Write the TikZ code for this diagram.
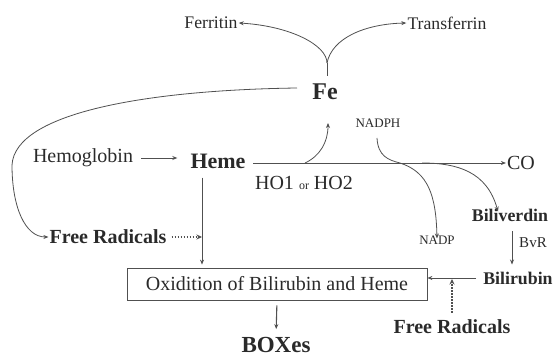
\documentclass[tikz,border=0pt]{standalone}
\usepackage{fontspec}
\setmainfont{Liberation Serif}
\usetikzlibrary{arrows.meta}
\definecolor{txt}{HTML}{2A2A2A}
\definecolor{ln}{HTML}{505050}
\newcommand{\fsz}[1]{\fontsize{#1}{#1}\selectfont}
\begin{document}
\begin{tikzpicture}[x=1pt,y=-1pt,
  lbl/.style={inner sep=1pt,text=txt,font=\fsz{20}},
  bld/.style={inner sep=1pt,text=txt,font=\fsz{20}\bfseries},
  small/.style={inner sep=1pt,text=txt,font=\fsz{13}},
  arr/.style={draw=ln,line width=0.8pt,-{Stealth[length=5pt,width=4pt]}},
  dotarr/.style={draw=ln,line width=1.4pt,dash pattern=on 1.4pt off 1.6pt,-{Stealth[length=5.5pt,width=5pt]}},
  plain/.style={draw=ln,line width=0.8pt}]
\useasboundingbox (0,0) rectangle (555,358);
% nodes
\node[bld,font=\fsz{24}\bfseries] (fe) at (325,92) {Fe};
\node[lbl,font=\fsz{17.7}] (ferritin) at (211,23) {Ferritin};
\node[lbl,font=\fsz{17.7}] (transferrin) at (447,23) {Transferrin};
\node[lbl] (hemoglobin) at (83,158) {Hemoglobin};
\node[bld,font=\fsz{22}\bfseries] (heme) at (218,161) {Heme};
\node[lbl] (co) at (521,163) {CO};
\node[lbl] (ho) at (304,183) {HO1 {\fsz{12}or} HO2};
\node[small] (nadph) at (378,123) {NADPH};
\node[small] (nadp) at (437,240) {NADP};
\node[bld,font=\fsz{17.8}\bfseries] (biliverdin) at (510,215) {Biliverdin};
\node[small,font=\fsz{15}] (bvr) at (533,243) {BvR};
\node[bld,font=\fsz{17.8}\bfseries] (bilirubin) at (518,278) {Bilirubin};
\node[lbl,draw=ln,line width=0.8pt,minimum width=300pt,minimum height=32pt] (box) at (277,284) {Oxidition of Bilirubin and Heme};
\node[bld] (frl) at (108,237) {Free Radicals};
\node[bld] (frb) at (452,327) {Free Radicals};
\node[bld,font=\fsz{23}\bfseries] (boxes) at (276,345) {BOXes};
% coordinates
\coordinate (fetop) at (327,76);
\coordinate (fork) at (327,63);
\coordinate (feleft) at (297,88);
\coordinate (bend) at (12,165);
\coordinate (linestart) at (253,163);
\coordinate (hofe) at (305,163);
\coordinate (fetip) at (328,123);
\coordinate (nadphstart) at (377,138);
\coordinate (cross) at (400,163);
\coordinate (bvstart) at (422,163);
\coordinate (hx) at (202,0);
\coordinate (bx) at (512,0);
% connectors
\draw[plain] (fetop) -- (fork);
\draw[arr] (fork) .. controls (327,45) and (290,26) .. (ferritin.east);
\draw[arr] (fork) .. controls (332,38) and (365,24) .. (transferrin.west);
\draw[plain] (feleft) .. controls (150,90) and (15,112) .. (bend);
\draw[arr] (bend) .. controls (12,207) and (25,237) .. (frl.west);
\draw[arr,shorten <=7pt,shorten >=12pt] (hemoglobin.east) -- (hemoglobin.east -| heme.west);
\draw[arr] (linestart) -- (linestart -| co.west);
\draw[arr] (hofe) .. controls (320,156) and (328,142) .. (fetip);
\draw[plain] (nadphstart) .. controls (378,156) and (388,160) .. (cross);
\draw[arr] (cross) .. controls (428,172) and (436,195) .. ([yshift=-4pt]nadp.north);
\draw[arr] (bvstart) .. controls (458,163) and (487,172) .. ([xshift=-12pt,yshift=-4pt]biliverdin.north);
\draw[arr,shorten <=9pt,shorten >=6pt] (biliverdin.south -| bx) -- (bilirubin.north -| bx);
\draw[arr,shorten <=6pt] (bilirubin.west) -- (bilirubin.west -| box.east);
\draw[dotarr,shorten <=6pt,shorten >=1pt] (frb.north) -- (frb.north |- bilirubin.west);
\draw[arr,shorten <=8pt,shorten >=3pt] (heme.south -| hx) -- (box.north -| hx);
\draw[dotarr,shorten <=4pt] (frl.east) -- (frl.east -| hx);
\draw[arr,line width=1.1pt,shorten <=5pt,shorten >=7pt] (box.south) -- (boxes.north);
\end{tikzpicture}
\end{document}
